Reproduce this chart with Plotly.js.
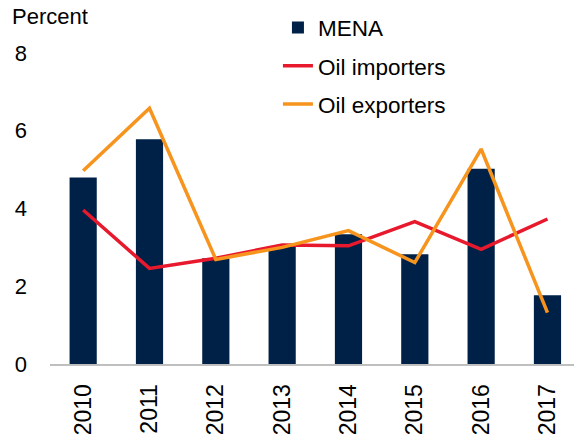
<!DOCTYPE html>
<html>
<head>
<meta charset="utf-8">
<script src="https://cdn.plot.ly/plotly-3.0.1.min.js"></script>
<style>html,body{margin:0;padding:0;background:#fff;}#chart{width:574px;height:442px;}</style>
</head>
<body>
<div id="chart"></div>
<script>
const years = ["2010","2011","2012","2013","2014","2015","2016","2017"];
const mena = [4.80, 5.78, 2.72, 3.02, 3.34, 2.82, 5.02, 1.77];
const oilImporters = [3.96, 2.46, 2.72, 3.06, 3.04, 3.66, 2.95, 3.73];
const oilExporters = [4.97, 6.58, 2.69, 3.00, 3.43, 2.61, 5.53, 1.32];
const yTicks = [0, 2, 4, 6, 8];

const fontFam = "Liberation Sans, Arial, sans-serif";
const traces = [
  {type:"bar", x: years, y: mena, name:"MENA", marker:{color:"#002147"}, width:0.41, legendgroup:"a"},
  {type:"scatter", mode:"lines", x: years, y: oilImporters, name:"Oil importers", line:{color:"#e8192c", width:3.5}, legendgroup:"b"},
  {type:"scatter", mode:"lines", x: years, y: oilExporters, name:"Oil exporters", line:{color:"#f7941d", width:3.5}, legendgroup:"c"}
];
const layout = {
  width:574, height:442,
  margin:{l:50, r:0, t:53, b:78},
  paper_bgcolor:"#fff", plot_bgcolor:"#fff",
  font:{family:fontFam, size:22, color:"#000"},
  showlegend:true,
  legend:{x:0.435, xanchor:"left", y:1.15, yanchor:"top", bgcolor:"rgba(0,0,0,0)",
          font:{size:22.5}, itemwidth:30, tracegroupgap:6, traceorder:"grouped"},
  xaxis:{type:"category", range:[-0.5, 7.4], showgrid:false, zeroline:false,
         showline:true, linecolor:"#bfbfbf", linewidth:2, ticks:"",
         tickangle:-90, ticklabelstandoff:9, tickfont:{size:23}},
  yaxis:{range:[0, 8], tickvals:yTicks, showgrid:false, zeroline:false, showline:false,
         ticks:"", ticklabelstandoff:22, tickfont:{size:22}},
  annotations:[{text:"Percent", xref:"paper", yref:"paper", x:-0.077, y:1.165,
                xanchor:"left", yanchor:"top", showarrow:false, font:{size:22}}]
};
Plotly.newPlot("chart", traces, layout, {displayModeBar:false, staticPlot:true});
</script>
</body>
</html>
